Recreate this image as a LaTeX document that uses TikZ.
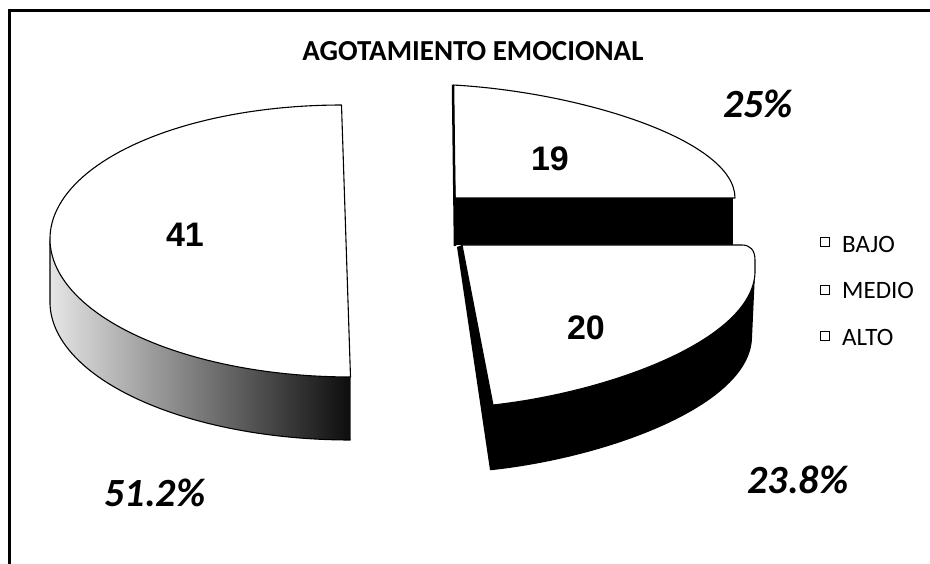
\documentclass[tikz,border=0pt]{standalone}
\usepackage{fontspec}
\setmainfont{Carlito}
\newfontfamily\numfont{Liberation Sans}
\begin{document}
\begin{tikzpicture}[x=1pt,y=-1pt,
  outl/.style={line width=1.1pt, line join=round},
  ttl/.style={font=\fontsize{29}{35}\selectfont\bfseries, inner sep=0pt},
  pct/.style={font=\fontsize{40}{48}\selectfont\bfseries\itshape, inner sep=0pt},
  val/.style={font=\numfont\fontsize{34}{40}\selectfont\bfseries, inner sep=0pt},
  leg/.style={font=\fontsize{25}{30}\selectfont, inner sep=0pt, anchor=west},
  legbox/.style={draw, line width=1pt, fill=white, minimum size=9pt, inner sep=0pt}]
\useasboundingbox (0,0) rectangle (930,564);
\fill[white] (0,0) rectangle (930,564);
% frame
\draw[line width=2.5pt] (9.5,564) -- (9.5,10.5) -- (930,10.5);

% ---- left slice (41) ----
\shade[left color=black!10, middle color=black!62, right color=black!95]
  plot[domain=180:270, samples=60, variable=\t] ({346+296*cos(\t)-4.5*sin(\t)},{241-136*sin(\t)})
  -- plot[domain=270:180, samples=60, variable=\t] ({346+296*cos(\t)-4.5*sin(\t)},{304-136*sin(\t)}) -- cycle;
\draw[outl] (50,241) -- plot[domain=180:270, samples=60, variable=\t] ({346+296*cos(\t)-4.5*sin(\t)},{304-136*sin(\t)});
\filldraw[fill=white, outl]
  plot[domain=90:270, samples=100, variable=\t] ({346+296*cos(\t)-4.5*sin(\t)},{241-136*sin(\t)}) -- cycle;

% ---- upper right slice (19) ----
\fill[black] (455,198) rectangle (733,245);
\filldraw[fill=white, outl] (453,85) -- (455,198) -- (735,198) .. controls (735,140) and (580,92) .. (453,85) -- cycle;
\draw[line width=2.5pt] (453,85) -- (455,246);

% ---- lower right slice (20) ----
\fill[black] (457,247) -- (462,245) -- (493,405) -- (493,470) -- (490,470) -- cycle;
\fill[black] (755,273) .. controls (752,340) and (610,392) .. (493,405) -- (493,470)
  .. controls (610,457) and (750,405) .. (752,338) -- cycle;
\filldraw[fill=white, outl] (462,245) -- (742,245) .. controls (750,245) and (755,250) .. (755,260)
  -- (755,273) .. controls (752,340) and (610,392) .. (493,405) -- cycle;

% ---- texts ----
\node[ttl] (title) at (473,51) {AGOTAMIENTO EMOCIONAL};
\node[val] (v41) at (185,235) {41};
\node[val] (v19) at (550,159) {19};
\node[val] (v20) at (586,328) {20};
\node[pct] (p25) at (758,104) {25\%};
\node[pct] (p51) at (155,493) {51.2\%};
\node[pct] (p23) at (798,480) {23.8\%};

% ---- legend ----
\node[legbox] (sb) at (824.5,242.5) {};
\node[leg] (lb) at (842,244) {BAJO};
\node[legbox] (sm) at (824.5,290) {};
\node[leg] (lm) at (842,290.5) {MEDIO};
\node[legbox] (sa) at (824.5,336.5) {};
\node[leg] (la) at (842,337) {ALTO};
\end{tikzpicture}
\end{document}
